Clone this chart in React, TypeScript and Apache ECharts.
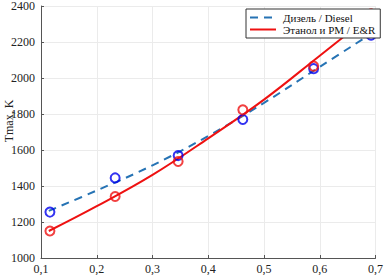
import React, { useEffect, useRef } from "react";
import * as echarts from "echarts";

const pointX = [0.116, 0.233, 0.346, 0.462, 0.589, 0.692];
const dieselT = [1255, 1445, 1569, 1770, 2052, 2238];
const ethanolT = [1150, 1342, 1536, 1823, 2066, 2356];
const fitX = [0.114, 0.2, 0.3, 0.4, 0.5, 0.6, 0.692];
const dieselFit = [1262, 1375, 1515, 1678, 1862, 2062, 2245];
const ethanolFit = [1150, 1288, 1462, 1665, 1880, 2124, 2350];
const seriesNames = ["Дизель / Diesel", "Этанол и РМ / E&R"];
const yName = "Tmax, K";

const FONT = "Liberation Serif";

export default function App() {
  const ref = useRef<HTMLDivElement>(null);
  useEffect(() => {
    const chart = echarts.init(ref.current!, null, { renderer: "svg" });
    const pairs = (xs: number[], ys: number[]) => xs.map((x, i) => [x, ys[i]]);
    chart.setOption({
      animation: false,
      backgroundColor: "#fff",
      textStyle: { fontFamily: FONT },
      grid: { left: 41, right: 6, top: 4, bottom: 17 },
      xAxis: {
        type: "value",
        min: 0.1,
        max: 0.7,
        interval: 0.1,
        axisLine: { show: true, lineStyle: { color: "#555", width: 1 } },
        axisTick: { show: true, inside: true, length: 3, lineStyle: { color: "#555" } },
        splitLine: { show: true, lineStyle: { color: "#ebebeb", width: 1 } },
        axisLabel: {
          color: "#222",
          fontFamily: FONT,
          fontSize: 12,
          margin: 5,
          formatter: (v: number) => v.toFixed(1).replace(".", ","),
        },
      },
      yAxis: {
        type: "value",
        min: 1000,
        max: 2400,
        interval: 200,
        axisLine: { show: true, lineStyle: { color: "#555", width: 1 } },
        axisTick: { show: true, inside: true, length: 3, lineStyle: { color: "#555" } },
        splitLine: { show: true, lineStyle: { color: "#ebebeb", width: 1 } },
        axisLabel: {
          color: "#222",
          fontFamily: FONT,
          fontSize: 12,
          margin: 6,
          formatter: (v: number) => String(v),
        },
      },
      legend: {
        data: seriesNames,
        orient: "vertical",
        left: 246,
        top: 9,
        backgroundColor: "#fff",
        borderColor: "#333",
        borderWidth: 1,
        borderRadius: 0,
        padding: [3, 5, 3, 3],
        itemGap: 1,
        itemWidth: 26,
        itemHeight: 12,
        itemStyle: { opacity: 0 },
        textStyle: { fontFamily: FONT, fontSize: 11, color: "#111", padding: [0, 0, 0, 2] },
      },
      graphic: [
        {
          type: "text",
          x: 9,
          y: 121,
          rotation: Math.PI / 2,
          style: {
            text: yName,
            fontFamily: FONT,
            fontSize: 12,
            fill: "#222",
            align: "center",
            verticalAlign: "middle",
          },
        },
      ],
      series: [
        {
          name: seriesNames[0],
          type: "line",
          data: pairs(fitX, dieselFit),
          smooth: 0.4,
          symbol: "none",
          lineStyle: { color: "#2673b4", width: 2, type: [8, 6] },
          itemStyle: { color: "#2673b4" },
          z: 2,
        },
        {
          name: seriesNames[1],
          type: "line",
          data: pairs(fitX, ethanolFit),
          smooth: 0.4,
          symbol: "none",
          lineStyle: { color: "#ee1111", width: 2 },
          itemStyle: { color: "#ee1111" },
          z: 2,
        },
        {
          name: "diesel-pts",
          type: "scatter",
          data: pairs(pointX, dieselT),
          symbol: "circle",
          symbolSize: 9,
          itemStyle: { color: "rgba(0,0,0,0)", borderColor: "#0000ee", borderWidth: 2 },
          z: 3,
        },
        {
          name: "ethanol-pts",
          type: "scatter",
          data: pairs(pointX, ethanolT),
          symbol: "circle",
          symbolSize: 9,
          itemStyle: { color: "rgba(0,0,0,0)", borderColor: "#ee1111", borderWidth: 2 },
          z: 3,
        },
      ],
    });
    return () => chart.dispose();
  }, []);
  return <div ref={ref} style={{ width: 386, height: 275, position: "absolute", left: 0, top: 0 }} />;
}
